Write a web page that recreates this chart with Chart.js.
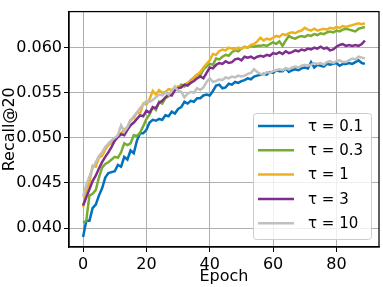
<!DOCTYPE html>
<html>
<head>
<meta charset="utf-8">
<script src="https://cdn.jsdelivr.net/npm/chart.js@4"></script>
<style>
  html, body { margin: 0; padding: 0; background: #fff; }
  canvas { display: block; }
</style>
</head>
<body>
<canvas id="grafico" width="383" height="287"></canvas>
<script>
// epochs 0..89
const epochs = Array.from({ length: 90 }, (_, i) => i);

const taus = ['0.1', '0.3', '1', '3', '10'];
const cores = ['#0072BD', '#77AC30', '#EDB120', '#7E2F8E', '#C0C0C0'];

const xTicks = [0, 20, 40, 60, 80];
const yTicks = [0.040, 0.045, 0.050, 0.055, 0.060];

const tau01 = [
  0.0390, 0.0408, 0.0408, 0.0422, 0.0426, 0.0436, 0.0444, 0.0456, 0.0461, 0.0462,
  0.0463, 0.0470, 0.0468, 0.0479, 0.0476, 0.0486, 0.0483, 0.0497, 0.0505, 0.0505,
  0.0509, 0.0517, 0.0520, 0.0519, 0.0521, 0.0520, 0.0525, 0.0524, 0.0529, 0.0527,
  0.0532, 0.0534, 0.0540, 0.0538, 0.0541, 0.0540, 0.0544, 0.0544, 0.0547, 0.0548,
  0.0547, 0.0552, 0.0558, 0.0559, 0.0555, 0.0556, 0.0560, 0.0559, 0.0562, 0.0561,
  0.0563, 0.0564, 0.0566, 0.0565, 0.0568, 0.0569, 0.0570, 0.0571, 0.0570, 0.0573,
  0.0572, 0.0575, 0.0574, 0.0574, 0.0577, 0.0573, 0.0575, 0.0576, 0.0575, 0.0577,
  0.0578, 0.0577, 0.0584, 0.0578, 0.0581, 0.0580, 0.0579, 0.0582, 0.0581, 0.0582,
  0.0583, 0.0580, 0.0582, 0.0582, 0.0583, 0.0582, 0.0584, 0.0586, 0.0583, 0.0582
];
const tau03 = [
  0.0406, 0.0408, 0.0436, 0.0438, 0.0442, 0.0456, 0.0467, 0.0471, 0.0473, 0.0476,
  0.0479, 0.0478, 0.0484, 0.0494, 0.0492, 0.0494, 0.0503, 0.0502, 0.0506, 0.0513,
  0.0521, 0.0526, 0.0534, 0.0531, 0.0540, 0.0538, 0.0544, 0.0546, 0.0550, 0.0553,
  0.0555, 0.0559, 0.0557, 0.0560, 0.0564, 0.0567, 0.0570, 0.0569, 0.0576, 0.0579,
  0.0582, 0.0581, 0.0588, 0.0587, 0.0590, 0.0592, 0.0591, 0.0595, 0.0597, 0.0596,
  0.0599, 0.0601, 0.0600, 0.0602, 0.0601, 0.0602, 0.0602, 0.0603, 0.0602, 0.0604,
  0.0606, 0.0604, 0.0607, 0.0602, 0.0608, 0.0613, 0.0611, 0.0610, 0.0612, 0.0613,
  0.0612, 0.0614, 0.0613, 0.0615, 0.0614, 0.0616, 0.0615, 0.0617, 0.0618, 0.0617,
  0.0619, 0.0618, 0.0620, 0.0621, 0.0620, 0.0619, 0.0618, 0.0621, 0.0622, 0.0623
];
const tau1 = [
  0.0423, 0.0441, 0.0451, 0.0469, 0.0468, 0.0478, 0.0480, 0.0487, 0.0492, 0.0495,
  0.0497, 0.0503, 0.0505, 0.0509, 0.0512, 0.0520, 0.0522, 0.0528, 0.0527, 0.0538,
  0.0537, 0.0543, 0.0552, 0.0548, 0.0553, 0.0550, 0.0551, 0.0554, 0.0553, 0.0555,
  0.0557, 0.0556, 0.0559, 0.0561, 0.0563, 0.0567, 0.0570, 0.0573, 0.0578, 0.0582,
  0.0586, 0.0593, 0.0592, 0.0596, 0.0598, 0.0597, 0.0600, 0.0599, 0.0598, 0.0600,
  0.0599, 0.0601, 0.0600, 0.0603, 0.0604, 0.0607, 0.0611, 0.0608, 0.0610, 0.0609,
  0.0611, 0.0613, 0.0612, 0.0615, 0.0614, 0.0616, 0.0617, 0.0616, 0.0618, 0.0619,
  0.0622, 0.0620, 0.0619, 0.0621, 0.0619, 0.0620, 0.0621, 0.0620, 0.0622, 0.0621,
  0.0623, 0.0622, 0.0624, 0.0623, 0.0624, 0.0625, 0.0626, 0.0627, 0.0626, 0.0627
];
const tau3 = [
  0.0425, 0.0434, 0.0443, 0.0452, 0.0458, 0.0466, 0.0473, 0.0479, 0.0484, 0.0490,
  0.0497, 0.0501, 0.0504, 0.0503, 0.0509, 0.0514, 0.0517, 0.0521, 0.0525, 0.0524,
  0.0530, 0.0528, 0.0534, 0.0533, 0.0539, 0.0541, 0.0545, 0.0548, 0.0547, 0.0553,
  0.0555, 0.0556, 0.0559, 0.0558, 0.0561, 0.0563, 0.0566, 0.0568, 0.0566, 0.0572,
  0.0578, 0.0577, 0.0581, 0.0583, 0.0582, 0.0585, 0.0583, 0.0584, 0.0587, 0.0588,
  0.0586, 0.0590, 0.0589, 0.0590, 0.0588, 0.0590, 0.0591, 0.0590, 0.0592, 0.0591,
  0.0594, 0.0593, 0.0595, 0.0593, 0.0596, 0.0594, 0.0595, 0.0597, 0.0596, 0.0598,
  0.0597, 0.0599, 0.0598, 0.0600, 0.0599, 0.0601, 0.0599, 0.0600, 0.0597, 0.0598,
  0.0601, 0.0603, 0.0604, 0.0602, 0.0603, 0.0602, 0.0603, 0.0602, 0.0604, 0.0608
];
const tau10 = [
  0.0435, 0.0448, 0.0457, 0.0466, 0.0473, 0.0480, 0.0484, 0.0490, 0.0494, 0.0497,
  0.0500, 0.0503, 0.0514, 0.0507, 0.0512, 0.0519, 0.0524, 0.0528, 0.0533, 0.0537,
  0.0541, 0.0540, 0.0542, 0.0545, 0.0548, 0.0547, 0.0550, 0.0548, 0.0552, 0.0557,
  0.0552, 0.0551, 0.0545, 0.0549, 0.0551, 0.0550, 0.0555, 0.0553, 0.0556, 0.0562,
  0.0566, 0.0562, 0.0563, 0.0565, 0.0564, 0.0567, 0.0566, 0.0568, 0.0567, 0.0569,
  0.0568, 0.0569, 0.0571, 0.0572, 0.0576, 0.0573, 0.0571, 0.0570, 0.0573, 0.0572,
  0.0574, 0.0575, 0.0576, 0.0575, 0.0577, 0.0576, 0.0578, 0.0579, 0.0578, 0.0580,
  0.0581, 0.0580, 0.0581, 0.0583, 0.0582, 0.0583, 0.0581, 0.0584, 0.0585, 0.0583,
  0.0585, 0.0586, 0.0584, 0.0584, 0.0586, 0.0588, 0.0587, 0.0590, 0.0589, 0.0588
];

const series = [tau01, tau03, tau1, tau3, tau10];

Chart.defaults.font.family = "'DejaVu Sans', sans-serif";
Chart.defaults.font.size = 16;
Chart.defaults.color = '#000';

// moldura + legenda dentro do grafico, estilo matplotlib
const molduraLegenda = {
    id: 'molduraLegenda',
    afterDraw(chart) {
        const ctx = chart.ctx;
        const a = chart.chartArea;
        ctx.save();
        ctx.strokeStyle = '#000';
        ctx.lineWidth = 1.25;
        ctx.strokeRect(a.left, a.top, a.right - a.left, a.bottom - a.top);

        const bx = 253, by = 113, bw = 118, bh = 126;
        ctx.beginPath();
        ctx.roundRect(bx + 0.5, by + 0.5, bw, bh, 3);
        ctx.fillStyle = 'rgba(255,255,255,0.8)';
        ctx.fill();
        ctx.strokeStyle = '#cccccc';
        ctx.lineWidth = 1;
        ctx.stroke();

        ctx.font = "15px 'DejaVu Sans'";
        ctx.textBaseline = 'middle';
        ctx.textAlign = 'left';
        chart.data.datasets.forEach((ds, i) => {
            const y = 126 + i * 24.3;
            ctx.beginPath();
            ctx.moveTo(258, y);
            ctx.lineTo(294, y);
            ctx.strokeStyle = ds.borderColor;
            ctx.lineWidth = 2.5;
            ctx.stroke();
            ctx.fillStyle = '#000';
            ctx.fillText(ds.label, 308, y + 1);
        });
        ctx.restore();
    }
};

new Chart(document.getElementById('grafico'), {
    type: 'line',
    data: {
        datasets: series.map((vals, i) => ({
            label: 'τ = ' + taus[i],
            data: vals.map((v, j) => ({ x: epochs[j], y: v })),
            borderColor: cores[i],
            backgroundColor: cores[i],
            borderWidth: 2.5,
            pointRadius: 0,
            tension: 0,
            order: series.length - i
        }))
    },
    options: {
        responsive: false,
        animation: false,
        layout: { padding: { top: 5, right: 4, left: 0, bottom: 0 } },
        plugins: {
            legend: { display: false },
            tooltip: { enabled: false }
        },
        scales: {
            x: {
                type: 'linear',
                min: -4.45,
                max: 93.45,
                afterBuildTicks: s => { s.ticks = xTicks.map(v => ({ value: v })); },
                afterFit: s => { s.height = 40; },
                ticks: { padding: 3, maxRotation: 0 },
                grid: { color: '#b0b0b0', lineWidth: 1, tickLength: 5, tickColor: '#000', tickWidth: 1 },
                border: { color: '#000', width: 1.25 },
                title: { display: true, text: 'Epoch', padding: { top: 0, bottom: 1 } }
            },
            y: {
                min: 0.0379,
                max: 0.0640,
                afterBuildTicks: s => { s.ticks = yTicks.map(v => ({ value: v })); },
                afterFit: s => { s.width = 69; },
                ticks: { padding: 2, callback: v => v.toFixed(3) },
                grid: { color: '#b0b0b0', lineWidth: 1, tickLength: 5, tickColor: '#000', tickWidth: 1 },
                border: { color: '#000', width: 1.25 },
                title: { display: true, text: 'Recall@20', padding: { top: 0, bottom: 0 } }
            }
        }
    },
    plugins: [molduraLegenda]
});
</script>
</body>
</html>
